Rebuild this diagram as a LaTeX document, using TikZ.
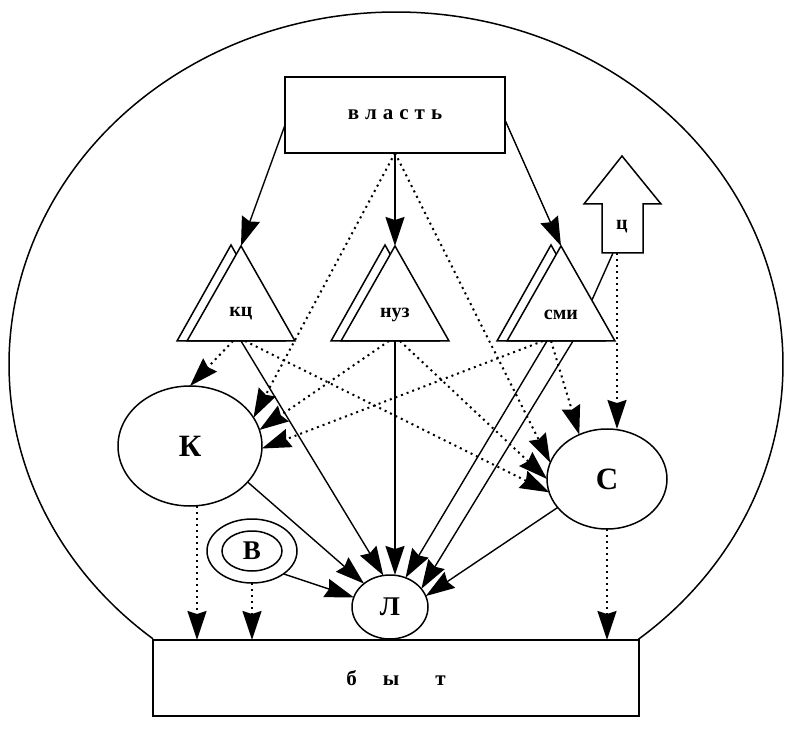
\documentclass[tikz,border=0pt]{standalone}
\usepackage{fontspec}
\setmainfont{Liberation Serif}
\usetikzlibrary{shapes.geometric,arrows.meta}
\begin{document}
\begin{tikzpicture}[x=1pt,y=-1pt,
  every node/.style={inner sep=0pt,outer sep=0pt},
  box/.style={draw,line width=1.9pt,rectangle,fill=white},
  oval/.style={draw,line width=1.5pt,ellipse,fill=white},
  tri/.style={draw,line width=1.5pt,fill=white,line join=miter},
  tip/.style={-{Stealth[length=29pt,width=19pt,inset=3pt]}},
  arr/.style={line width=1.4pt,tip},
  dotarr/.style={line width=2pt,dash pattern=on 2pt off 4pt,tip},
  plain/.style={line width=1.4pt},
  lbl/.style={font=\bfseries\fontsize{20}{20}\selectfont},
  big/.style={font=\bfseries\fontsize{31}{31}\selectfont},
  mid/.style={font=\bfseries\fontsize{27}{27}\selectfont},
]
\useasboundingbox (0,0) rectangle (801,743);

% outer outline
\draw[line width=1.5pt] plot[domain=128.9:411.2,samples=240,smooth] ({396+387*cos(\x)},{364.5+352.5*sin(\x)});

% top and bottom boxes
\node[box,minimum width=220pt,minimum height=76pt] (vlast) at (395,115)
  {\bfseries\fontsize{21}{21}\selectfont в\hspace{6pt}л\hspace{6pt}а\hspace{6pt}с\hspace{6pt}т\hspace{6pt}ь};
\node[box,minimum width=486pt,minimum height=76pt] (byt) at (396,678)
  {\bfseries\fontsize{21}{21}\selectfont б\hspace{26pt}ы\hspace{36pt}т\hspace{22pt}};

% ellipses
\node[oval,minimum width=144pt,minimum height=120pt,big] (K) at (190,446) {К};
\node[oval,minimum width=120pt,minimum height=100pt,big] (S) at (607,479) {С};
\node[oval,minimum width=76pt,minimum height=64pt,mid] (L) at (390,607) {Л};
\node[oval,minimum width=90pt,minimum height=64pt] (Vo) at (252,551) {};
\node[oval,minimum width=60pt,minimum height=40pt,mid] (V) at (252,551) {В};

% coordinates on the triangles
\coordinate (kcA) at (241,246);
\coordinate (nzA) at (395,246);
\coordinate (smA) at (561,246);
\coordinate (kcb1) at (233,341);
\coordinate (kcb2) at (245,341);
\coordinate (kcb3) at (241,341);
\coordinate (nzb) at (395,341);
\coordinate (nzb1) at (389,341);
\coordinate (nzb2) at (400,341);
\coordinate (smb1) at (547,341);
\coordinate (smb2) at (573,341);
\coordinate (smb3) at (543,341);
\coordinate (smb4) at (551,341);
\coordinate (smr) at (592,300);
\coordinate (tsb) at (617,253);
\coordinate (tsl) at (613,253);
\coordinate (kd) at (197,506);

% solid arrows
\draw[arr] ([yshift=-10pt]vlast.west) -- (kcA);
\draw[arr] (vlast.south) -- (nzA);
\draw[arr] ([yshift=-5pt]vlast.east) -- (smA);
\draw[arr] (kcb3) -- (L.102);
\draw[arr] (nzb) -- (nzb |- L.north);
\draw[arr] (smb1) -- (L.62);
\draw[arr] (smb2) -- (L.30);
\draw[arr] (K.328) -- (L.138);
\draw[arr] (Vo.324) -- (L.165);
\draw[arr] (S.210) -- (L.17);
\draw[plain] (tsl) -- (smr);

% dotted arrows
\draw[dotarr] (vlast.south) -- (K.24);
\draw[dotarr] (vlast.south) -- (S.164);
\draw[dotarr] (kcb1) -- (K.north);
\draw[dotarr] (kcb2) -- (S.193);
\draw[dotarr] (nzb1) -- (K.13);
\draw[dotarr] (nzb2) -- (S.180);
\draw[dotarr] (smb3) -- (K.358);
\draw[dotarr] (smb4) -- (S.122);
\draw[dotarr] (tsb) -- (tsb |- S.north);
\draw[dotarr] (kd) -- (kd |- byt.north);
\draw[dotarr] (Vo.south) -- (Vo.south |- byt.north);
\draw[dotarr] (S.south) -- (S.south |- byt.north);

% triangles (with shadow)
\draw[tri] (231,245) -- (177,341) -- (285,341) -- cycle;
\draw[tri] (241,246) -- (187,341) -- (295,341) -- cycle;
\draw[tri] (385,245) -- (331,341) -- (439,341) -- cycle;
\draw[tri] (395,246) -- (341,341) -- (449,341) -- cycle;
\draw[tri] (551,245) -- (497,341) -- (605,341) -- cycle;
\draw[tri] (561,246) -- (507,341) -- (615,341) -- cycle;
\node[lbl] (kc) at (241,314) {кц};
\node[lbl] (nz) at (395,315) {нуз};
\node[lbl] (sm) at (561,315) {сми};

% arrow Ц
\draw[tri] (622,156) -- (661,204) -- (643,204) -- (643,253) -- (602,253) -- (602,204) -- (584,204) -- cycle;
\node[lbl] (ts) at (622,227) {ц};
\end{tikzpicture}
\end{document}
